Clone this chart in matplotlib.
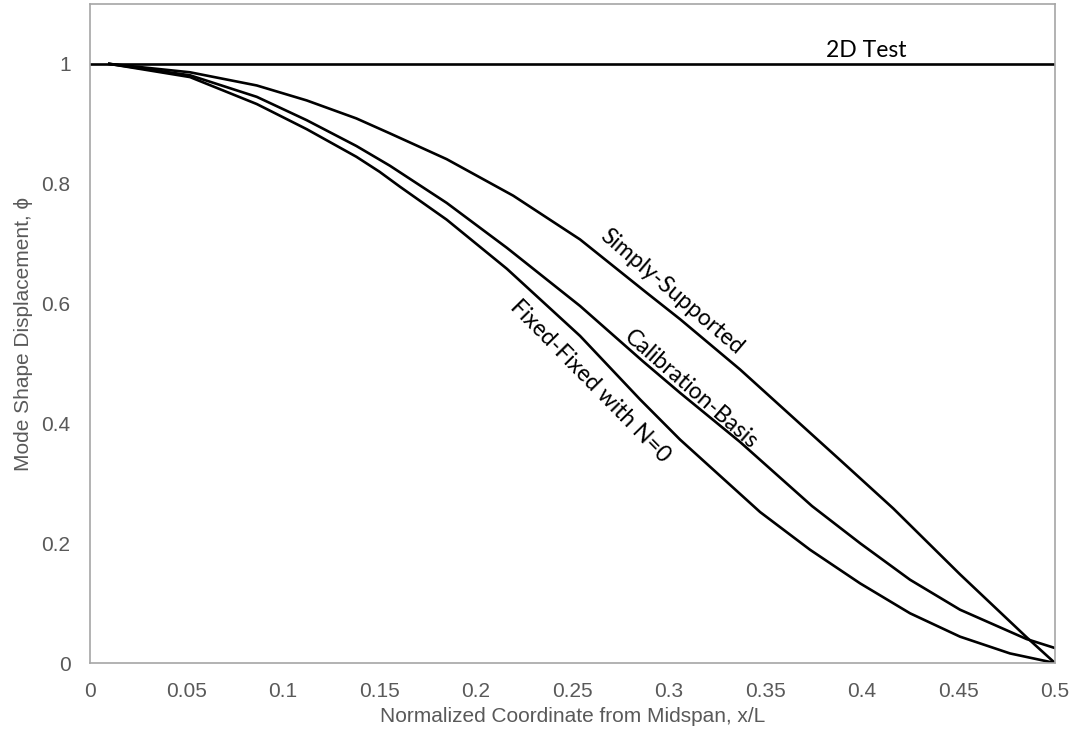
import matplotlib
matplotlib.use("Agg")
import matplotlib.pyplot as plt

# values
x_ss = [0.01, 0.0518, 0.0864, 0.1123, 0.138, 0.1554, 0.1848, 0.2193, 0.2539, 0.2884, 0.3057, 0.3368,
        0.3886, 0.4162, 0.4508, 0.4853, 0.5]
y_ss = [1.0, 0.986, 0.964, 0.939, 0.909, 0.884, 0.841, 0.780, 0.707, 0.618, 0.574, 0.490,
        0.339, 0.258, 0.148, 0.043, 0.0]

x_cb = [0.01, 0.0518, 0.0864, 0.1123, 0.138, 0.1554, 0.1848, 0.216, 0.2539, 0.2867, 0.3057, 0.3368,
        0.3741, 0.399, 0.4249, 0.4508, 0.4853, 0.5]
y_cb = [1.0, 0.981, 0.945, 0.906, 0.863, 0.830, 0.768, 0.693, 0.596, 0.503, 0.451, 0.369,
        0.262, 0.200, 0.139, 0.089, 0.040, 0.025]

x_ff = [0.01, 0.0518, 0.0864, 0.1123, 0.138, 0.150, 0.1606, 0.1848, 0.216, 0.2539, 0.285, 0.3057,
        0.3472, 0.3731, 0.399, 0.4249, 0.4508, 0.4767, 0.5]
y_ff = [1.0, 0.978, 0.933, 0.891, 0.845, 0.820, 0.795, 0.740, 0.658, 0.546, 0.440, 0.373,
        0.252, 0.189, 0.133, 0.083, 0.044, 0.016, 0.0]

x_2d = [0.0, 0.5]
y_2d = [1.0, 1.0]

xticks = [0, 0.05, 0.1, 0.15, 0.2, 0.25, 0.3, 0.35, 0.4, 0.45, 0.5]
xtick_labels = ["0", "0.05", "0.1", "0.15", "0.2", "0.25", "0.3", "0.35", "0.4", "0.45", "0.5"]
yticks = [0, 0.2, 0.4, 0.6, 0.8, 1.0]
ytick_labels = ["0", "0.2", "0.4", "0.6", "0.8", "1"]

grey = "#595959"
fig = plt.figure(figsize=(10.73, 7.38), dpi=100)
ax = fig.add_axes([0.0839, 0.1016, 0.8993, 0.893])

lw = 1.9
ax.plot(x_2d, y_2d, color="black", lw=lw)
ax.plot(x_ss, y_ss, color="black", lw=lw, solid_joinstyle="round")
ax.plot(x_cb, y_cb, color="black", lw=lw, solid_joinstyle="round")
ax.plot(x_ff, y_ff, color="black", lw=lw, solid_joinstyle="round")

ax.set_xlim(0, 0.5)
ax.set_ylim(0, 1.1)
ax.set_xticks(xticks)
ax.set_xticklabels(xtick_labels)
ax.set_yticks(yticks)
ax.set_yticklabels(ytick_labels)
ax.tick_params(length=0, labelsize=15, labelcolor=grey)
ax.tick_params(axis="x", pad=14)
ax.tick_params(axis="y", pad=14)
for lab in ax.get_xticklabels() + ax.get_yticklabels():
    lab.set_family("Liberation Sans")
for s in ax.spines.values():
    s.set_color("#A6A6A6")
    s.set_linewidth(1.2)

ax.set_xlabel("Normalized Coordinate from Midspan, x/L", fontsize=15, color=grey,
              family="Liberation Sans", labelpad=4)
ax.set_ylabel("Mode Shape Displacement, \u03d5", fontsize=15, color=grey,
              family=["Liberation Sans", "DejaVu Sans"], labelpad=6)

lab_font = dict(family="Lato", fontsize=16.5, color="black", ha="center", va="center",
                rotation_mode="anchor")
ax.text(0.402, 1.012, "2D Test", family="Lato", fontsize=16.5, ha="center", va="baseline")
ax.text(0.3016, 0.619, "Simply-Supported", rotation=-40.5, **lab_font)
ax.text(0.3114, 0.4565, "Calibration-Basis", rotation=-41, **lab_font)
ax.text(0.259, 0.471, "Fixed-Fixed with N=0", rotation=-45.5, **lab_font)

fig.savefig("out.png", dpi=100)
